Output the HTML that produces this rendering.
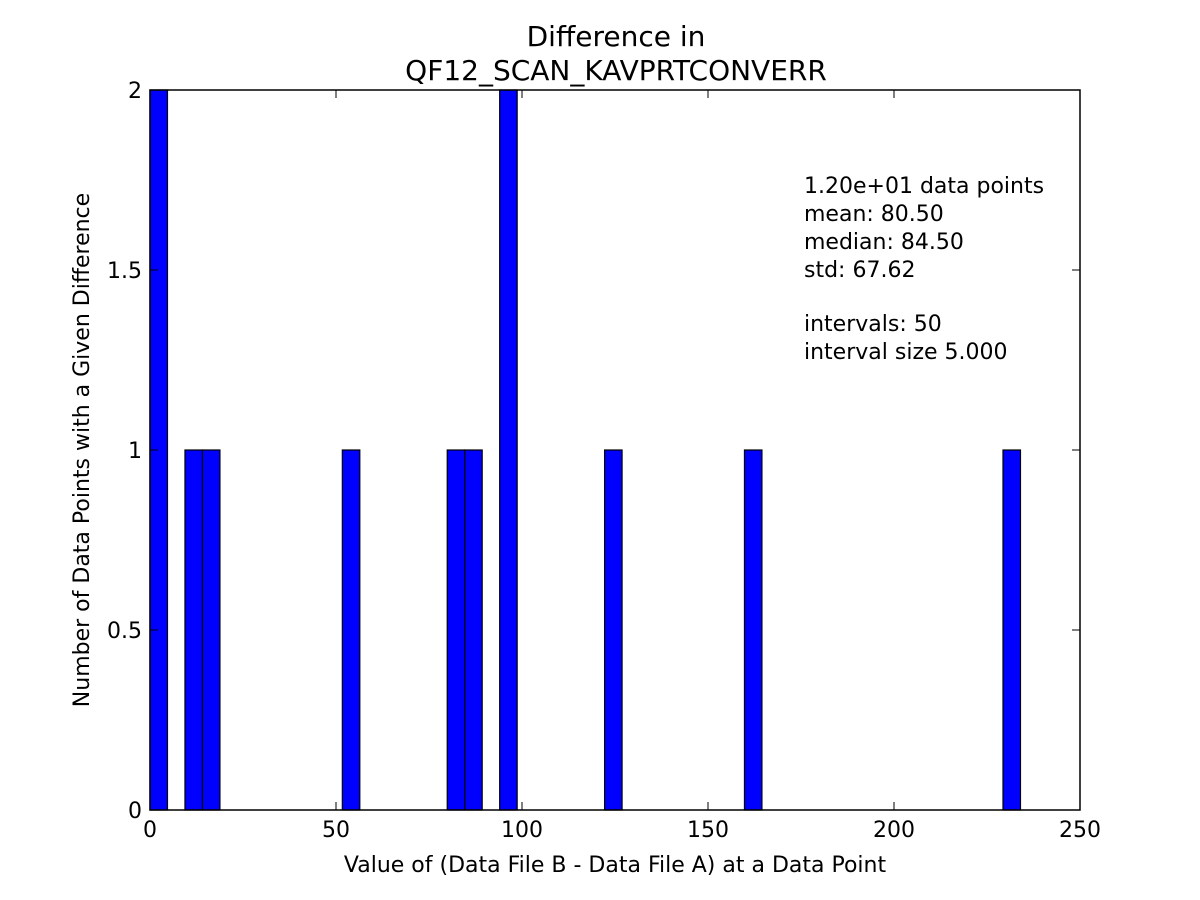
<!DOCTYPE html>
<html><head><meta charset="utf-8"><style>
html,body{margin:0;padding:0;background:#fff;}
svg{display:block;font-family:"DejaVu Sans","Liberation Sans",sans-serif;}
</style></head><body>
<svg id="chart" width="1200" height="900" viewBox="0 0 1200 900">
<rect x="0" y="0" width="1200" height="900" fill="#fff"/>
<text x="616" y="46" font-size="28" text-anchor="middle">Difference in</text>
<text x="616" y="80" font-size="28" text-anchor="middle">QF12_SCAN_KAVPRTCONVERR</text>
<g id="bars"></g>
<rect x="150" y="90" width="930" height="720" fill="none" stroke="#000" stroke-width="1.5"/>
<g id="xticks"></g>
<g id="yticks"></g>
<text x="615" y="872" font-size="22" text-anchor="middle">Value of (Data File B - Data File A) at a Data Point</text>
<text transform="translate(89,450) rotate(-90)" font-size="22" text-anchor="middle">Number of Data Points with a Given Difference</text>
<g font-size="22">
<text x="804" y="193">1.20e+01 data points</text>
<text x="804" y="221">mean: 80.50</text>
<text x="804" y="249">median: 84.50</text>
<text x="804" y="277">std: 67.62</text>
<text x="804" y="331">intervals: 50</text>
<text x="804" y="359">interval size 5.000</text>
</g>
</svg>
<script>
const binStarts = [0, 9.4, 14.1, 51.7, 79.9, 84.6, 94.0, 122.2, 159.8, 229.3];
const counts = [2, 1, 1, 1, 1, 1, 2, 1, 1, 1];
const binWidth = 4.7;
const xTicks = [0, 50, 100, 150, 200, 250];
const yTicks = [0, 0.5, 1, 1.5, 2];
const yTickLabels = ["0", "0.5", "1", "1.5", "2"];
const NS = "http://www.w3.org/2000/svg";
const x = v => 150 + v / 250 * 930;
const y = v => 810 - v / 2 * 720;
const bars = document.getElementById("bars");
binStarts.forEach((b, i) => {
  const r = document.createElementNS(NS, "rect");
  r.setAttribute("x", x(b)); r.setAttribute("width", x(b + binWidth) - x(b));
  r.setAttribute("y", y(counts[i])); r.setAttribute("height", y(0) - y(counts[i]));
  r.setAttribute("fill", "#0000ff"); r.setAttribute("stroke", "#000"); r.setAttribute("stroke-width", "1.2");
  
  
  bars.appendChild(r);
});
const xg = document.getElementById("xticks");
xTicks.forEach(t => {
  const px = x(t);
  [[810, 802], [90, 98]].forEach(([a, b]) => {
    const l = document.createElementNS(NS, "line");
    l.setAttribute("x1", px); l.setAttribute("x2", px); l.setAttribute("y1", a); l.setAttribute("y2", b);
    l.setAttribute("stroke", "#000");
    
    
    xg.appendChild(l);
  });
  const tx = document.createElementNS(NS, "text");
  tx.setAttribute("x", px); tx.setAttribute("y", 837); tx.setAttribute("font-size", "22"); tx.setAttribute("text-anchor", "middle");
  tx.textContent = t;
  
  
  xg.appendChild(tx);
});
const yg = document.getElementById("yticks");
yTicks.forEach((t, i) => {
  const py = y(t);
  [[150, 158], [1080, 1072]].forEach(([a, b]) => {
    const l = document.createElementNS(NS, "line");
    l.setAttribute("x1", a); l.setAttribute("x2", b); l.setAttribute("y1", py); l.setAttribute("y2", py);
    l.setAttribute("stroke", "#000");
    
    
    yg.appendChild(l);
  });
  const tx = document.createElementNS(NS, "text");
  tx.setAttribute("x", 142); tx.setAttribute("y", py + 8); tx.setAttribute("font-size", "22"); tx.setAttribute("text-anchor", "end");
  tx.textContent = yTickLabels[i];
  
  
  yg.appendChild(tx);
});
</script>
</body></html>
